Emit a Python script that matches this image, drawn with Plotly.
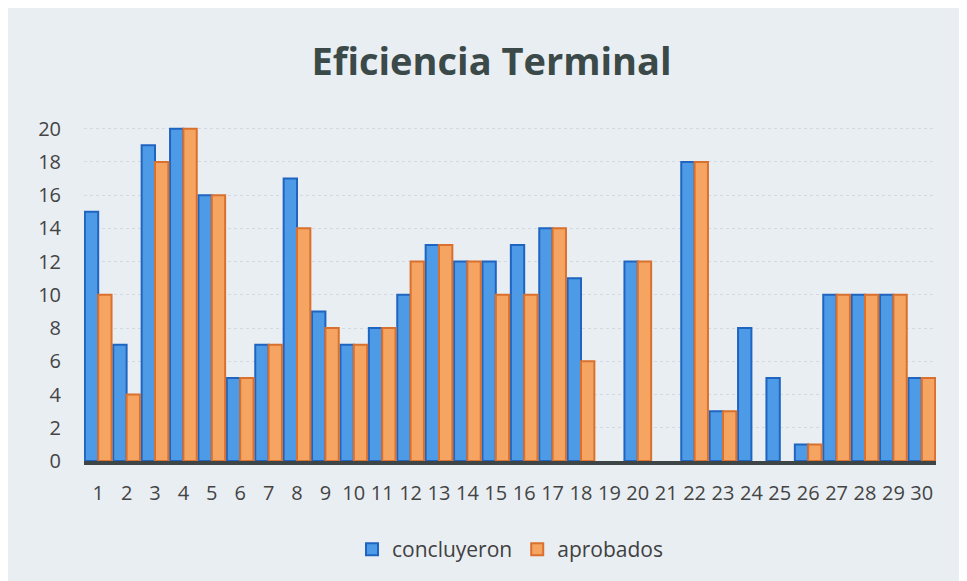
import plotly.graph_objects as go

categorias = [str(i) for i in range(1, 31)]
concluyeron = [15, 7, 19, 20, 16, 5, 7, 17, 9, 7, 8, 10, 13, 12, 12, 13, 14, 11, None, 12, None, 18, 3, 8, 5, 1, 10, 10, 10, 5]
aprobados = [10, 4, 18, 20, 16, 5, 7, 14, 8, 7, 8, 12, 13, 12, 10, 10, 14, 6, None, 12, None, 18, 3, None, None, 1, 10, 10, 10, 5]
y_ticks = [0, 2, 4, 6, 8, 10, 12, 14, 16, 18, 20]

fig = go.Figure()
fig.add_trace(go.Bar(
    x=categorias, y=concluyeron, name="concluyeron",
    marker=dict(color="#4d9be6", line=dict(color="#1f64c0", width=2)),
))
fig.add_trace(go.Bar(
    x=categorias, y=aprobados, name="aprobados",
    marker=dict(color="#f5a462", line=dict(color="#d9702e", width=2)),
))

fig.update_layout(
    width=967, height=581,
    paper_bgcolor="#e9eef3", plot_bgcolor="#e9eef3",
    barmode="group", bargap=0.06, bargroupgap=0.0,
    margin=dict(l=76, r=39, t=119, b=128),
    title=dict(text="<b>Eficiencia Terminal</b>", x=0.5, xanchor="center", y=0.907, yanchor="middle",
               font=dict(family="Open Sans", size=38, color="#3b4a48")),
    font=dict(family="Open Sans", color="#444444"),
    legend=dict(orientation="h", x=0.5, xanchor="center", y=-0.204, yanchor="top",
                font=dict(size=21, color="#404040"), bgcolor="rgba(0,0,0,0)"),
    xaxis=dict(tickfont=dict(size=20, color="#444444"), showgrid=False,
               showline=True, linecolor="#3d4547", linewidth=4, ticks="", tickangle=0,
               ticklabelstandoff=11),
    yaxis=dict(range=[0, 20.1], tickvals=y_ticks, tickfont=dict(size=20, color="#444444"),
               showgrid=True, gridcolor="#d3d9e2", gridwidth=1, griddash="dot", zeroline=False, ticks="",
               ticklabelstandoff=22),
)

fig.write_html("out.html")
